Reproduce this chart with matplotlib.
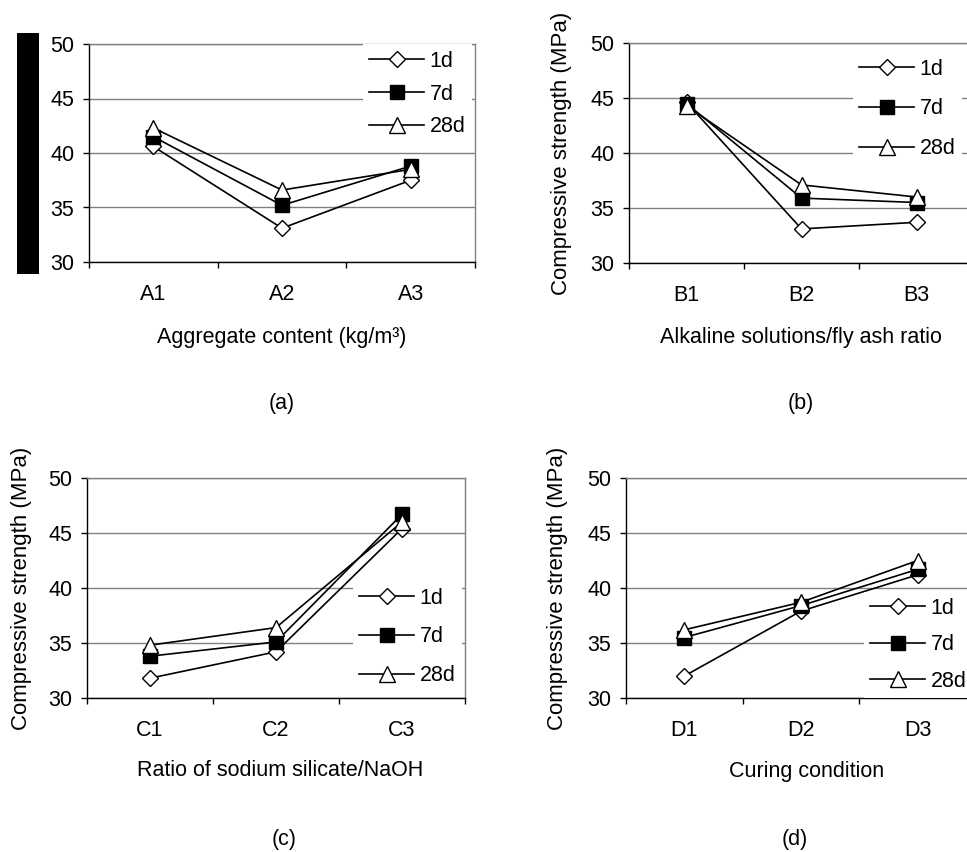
import matplotlib
matplotlib.use("Agg")
import matplotlib.pyplot as plt
from matplotlib.lines import Line2D
from matplotlib.patches import Rectangle

plt.rcParams['font.family'] = ['Liberation Sans', 'DejaVu Sans']
plt.rcParams['font.size'] = 15.5

# ---------------- data ----------------
series_labels = ["1d", "7d", "28d"]

cats_a = ["A1", "A2", "A3"]
a_1d = [40.6, 33.1, 37.5]
a_7d = [41.5, 35.2, 38.8]
a_28d = [42.3, 36.6, 38.5]

cats_b = ["B1", "B2", "B3"]
b_1d = [44.6, 33.1, 33.7]
b_7d = [44.5, 35.9, 35.5]
b_28d = [44.3, 37.1, 36.0]

cats_c = ["C1", "C2", "C3"]
c_1d = [31.8, 34.2, 45.4]
c_7d = [33.8, 35.1, 46.7]
c_28d = [34.8, 36.4, 46.0]

cats_d = ["D1", "D2", "D3"]
d_1d = [32.0, 37.9, 41.2]
d_7d = [35.5, 38.4, 41.7]
d_28d = [36.2, 38.7, 42.5]

xlabels = ["Aggregate content (kg/m\u00b3)", "Alkaline solutions/fly ash ratio",
           "Ratio of sodium silicate/NaOH", "Curing condition"]
panel_tags = ["(a)", "(b)", "(c)", "(d)"]
ylabel = "Compressive strength (MPa)"
yticks = [30, 35, 40, 45, 50]

# ---------------- layout ----------------
W, H = 967, 852
fig = plt.figure(figsize=(W / 100, H / 100), dpi=100)
fig.patch.set_facecolor("white")


def px_axes(l, r, t, b):
    return fig.add_axes([l / W, 1 - b / H, (r - l) / W, (b - t) / H])


styles = [
    dict(marker="D", markersize=7.8, markerfacecolor="white"),
    dict(marker="s", markersize=10.0, markerfacecolor="black"),
    dict(marker="^", markersize=11.0, markerfacecolor="white"),
]

panels = [
    dict(rect=(89, 475, 44, 262), cats=cats_a, data=[a_1d, a_7d, a_28d],
         leg=(363, 94, 0.55), ylab_x=None, xl=(282, 337), tag=(282, 404)),
    dict(rect=(629, 974, 43, 263), cats=cats_b, data=[b_1d, b_7d, b_28d],
         leg=(853, 109, 0.87), ylab_x=562, xl=(801, 337), tag=(801, 404)),
    dict(rect=(87, 465, 478, 698), cats=cats_c, data=[c_1d, c_7d, c_28d],
         leg=(353, 637, 0.83), ylab_x=22, xl=(280, 771), tag=(284, 839)),
    dict(rect=(626, 976, 478, 698), cats=cats_d, data=[d_1d, d_7d, d_28d],
         leg=(864, 645, 0.72), ylab_x=558, xl=(807, 771), tag=(795, 839)),
]

for i, p in enumerate(panels):
    ax = px_axes(*p["rect"])
    xs = list(range(len(p["cats"])))
    for vals, st in zip(p["data"], styles):
        ax.plot(xs, vals, color="black", lw=1.2, markeredgecolor="black",
                markeredgewidth=1.0, zorder=3, **st)
    ax.set_xlim(-0.5, 2.5)
    ax.set_ylim(30, 50)
    ax.set_yticks(yticks)
    ax.yaxis.grid(True, color="#808080", lw=1.0)
    ax.set_axisbelow(True)
    ax.set_xticks([-0.5, 0.5, 1.5, 2.5])
    ax.set_xticklabels([])
    ax.set_xticks(xs, minor=True)
    ax.set_xticklabels(p["cats"], minor=True)
    ax.tick_params(axis="x", which="major", direction="out", length=4.5, width=1)
    ax.tick_params(axis="x", which="minor", length=0, pad=16)
    ax.tick_params(axis="y", direction="out", length=4.5, width=1, pad=6)
    ax.spines["left"].set_color("black")
    ax.spines["bottom"].set_color("black")
    ax.spines["top"].set_color("#808080")
    ax.spines["right"].set_color("#808080")
    for s in ax.spines.values():
        s.set_linewidth(1.0)

    handles = [Line2D([], [], color="black", lw=1.2, markeredgecolor="black",
                      markeredgewidth=1.0, **st) for st in styles]
    lx, ly, ls = p["leg"]
    ax.legend(handles, series_labels, loc="center left",
              bbox_to_anchor=(lx / W, 1 - ly / H), bbox_transform=fig.transFigure,
              frameon=True, facecolor="white", edgecolor="none", framealpha=1,
              fancybox=False, handlelength=2.55, handletextpad=0.25,
              labelspacing=ls, borderpad=0.3, borderaxespad=0, numpoints=1)

    l, r, t, b = p["rect"]
    if p["ylab_x"] is not None:
        fig.text(p["ylab_x"] / W, 1 - ((t + b) / 2) / H, ylabel, rotation=90,
                 ha="center", va="center", fontsize=16)
    fig.text(p["xl"][0] / W, 1 - p["xl"][1] / H, xlabels[i], ha="center", va="center")
    fig.text(p["tag"][0] / W, 1 - p["tag"][1] / H, panel_tags[i], ha="center", va="center")

# black redaction bar at the left of panel (a), where its y-axis title sits
fig.add_artist(Rectangle((17 / W, 1 - 274 / H), 22 / W, 241 / H,
                         transform=fig.transFigure, facecolor="black",
                         edgecolor="none", zorder=10))

fig.savefig("out.png", dpi=100)
